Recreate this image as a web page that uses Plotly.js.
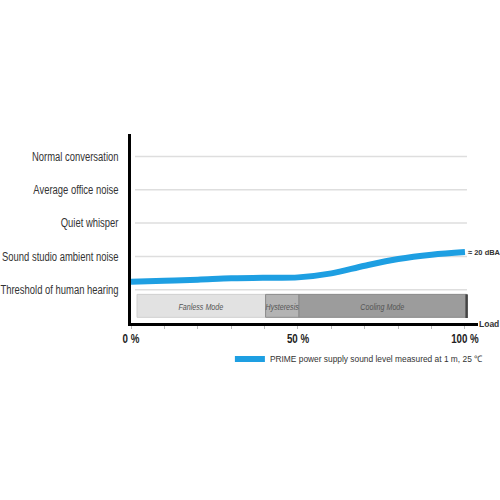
<!DOCTYPE html>
<html>
<head>
<meta charset="utf-8">
<script src="https://cdn.plot.ly/plotly-3.0.1.min.js"></script>
<style>html,body{margin:0;padding:0;background:#fff;}#chart{width:500px;height:500px;}</style>
</head>
<body>
<div id="chart"></div>
<script>
// Load (%) and sound level (in the units of the y-scale categories)
const loadPct = [0, 10, 20, 30, 40, 50, 60, 70, 80, 90, 100];
const soundLevel = [1.24, 1.27, 1.30, 1.34, 1.36, 1.37, 1.49, 1.72, 1.92, 2.05, 2.13];

const levelVals = [1, 2, 3, 4, 5];
const levelLabels = ['Threshold of human hearing', 'Sound studio ambient noise', 'Quiet whisper', 'Average office noise', 'Normal conversation'];

const xTickVals = [0, 10, 20, 30, 40, 50, 60, 70, 80, 90, 100];
const xTickText = ['0 %', '', '', '', '', '50 %', '', '', '', '', '100 %'];

const modeNames = ['Fanless Mode', 'Hysteresis', 'Cooling Mode'];
const modeStart = [1.8, 40.3, 50.3];
const modeEnd = [40.3, 50.3, 100.5];
const modeFill = ['#e2e2e2', '#b4b4b4', '#9c9c9c'];

const seriesName = 'PRIME power supply sound level measured at 1 m, 25 ℃';
const endLabel = '≈ 20 dBA';

const fam = 'Liberation Sans, Arial, sans-serif';

const shapes = [];
const annotations = [];
levelVals.forEach(v => {
  shapes.push({type: 'line', xref: 'x', yref: 'y', x0: 1.2, x1: 100.6, y0: v, y1: v,
    line: {color: '#dedede', width: 1.5}, layer: 'below'});
});
modeNames.forEach((n, i) => {
  shapes.push({type: 'rect', xref: 'x', yref: 'y', x0: modeStart[i], x1: modeEnd[i], y0: 0.17, y1: 0.86,
    fillcolor: modeFill[i], line: {color: i === 0 ? '#d0d0d0' : '#8a8a8a', width: 1}, layer: 'above'});
  annotations.push({x: (modeStart[i] + modeEnd[i]) / 2, y: 0.5, xref: 'x', yref: 'y', text: n, showarrow: false,
    font: {family: fam, size: 9.5, color: '#555', style: 'italic'}});
});
// shadow on right edge of cooling mode box
shapes.push({type: 'line', xref: 'x', yref: 'y', x0: modeEnd[2], x1: modeEnd[2], y0: 0.15, y1: 0.86,
  line: {color: '#444', width: 2.5}});

annotations.push({x: loadPct[loadPct.length - 1], y: soundLevel[soundLevel.length - 1], xref: 'x', yref: 'y',
  text: endLabel, showarrow: false, xanchor: 'left', xshift: 1,
  font: {family: fam, size: 7.5, color: '#333', weight: 'bold'}});
annotations.push({x: 1, y: 0, xref: 'paper', yref: 'y', text: 'Load', showarrow: false, xanchor: 'left', xshift: -1, yshift: -1,
  font: {family: fam, size: 8.5, color: '#333', weight: 'bold'}});

const trace = {
  x: loadPct, y: soundLevel, type: 'scatter', mode: 'lines', name: seriesName,
  line: {color: '#1e9fe2', width: 6, shape: 'spline', smoothing: 1}
};

const layout = {
  width: 500, height: 500,
  margin: {l: 131, r: 22, t: 134, b: 177, autoexpand: false},
  paper_bgcolor: '#fff', plot_bgcolor: '#fff',
  showlegend: true,
  legend: {orientation: 'h', x: 0.285, xanchor: 'left', y: -0.19, yanchor: 'middle', bgcolor: 'rgba(0,0,0,0)',
    font: {family: fam, size: 9, color: '#333'}, itemwidth: 30},
  xaxis: {range: [0, 103.9], showline: true, linecolor: '#000', linewidth: 3, showgrid: false, zeroline: false,
    tickvals: xTickVals, ticktext: xTickText, ticks: 'outside', ticklen: 3, tickcolor: '#bbb', tickwidth: 1,
    ticklabelstandoff: -2,
    tickfont: {family: fam, size: 13, color: '#222', weight: 'bold'}, fixedrange: true},
  yaxis: {range: [0, 5.675], showline: true, linecolor: '#000', linewidth: 3, showgrid: false, zeroline: false,
    tickvals: levelVals, ticktext: levelLabels, ticks: '', ticklabelstandoff: 7,
    tickfont: {family: fam, size: 12.5, color: '#333'}, fixedrange: true},
  shapes: shapes,
  annotations: annotations
};

function condense(root, selector, ratio) {
  root.querySelectorAll(selector).forEach(t => {
    const len = t.getComputedTextLength();
    if (len > 0) {
      t.setAttribute('textLength', (len * ratio).toFixed(2));
      t.setAttribute('lengthAdjust', 'spacingAndGlyphs');
    }
  });
}

Plotly.newPlot('chart', [trace], layout, {displayModeBar: false, staticPlot: true}).then(gd => {
  condense(gd, '.ytick text', 0.755);
  condense(gd, '.xtick text', 0.75);
  condense(gd, '.legendtext', 0.93);
  gd.querySelectorAll('.annotation-text').forEach((t, i) => {
    if (i < 3) {
      const len = t.getComputedTextLength();
      t.setAttribute('textLength', (len * 0.75).toFixed(2));
      t.setAttribute('lengthAdjust', 'spacingAndGlyphs');
    }
  });
});
</script>
</body>
</html>
